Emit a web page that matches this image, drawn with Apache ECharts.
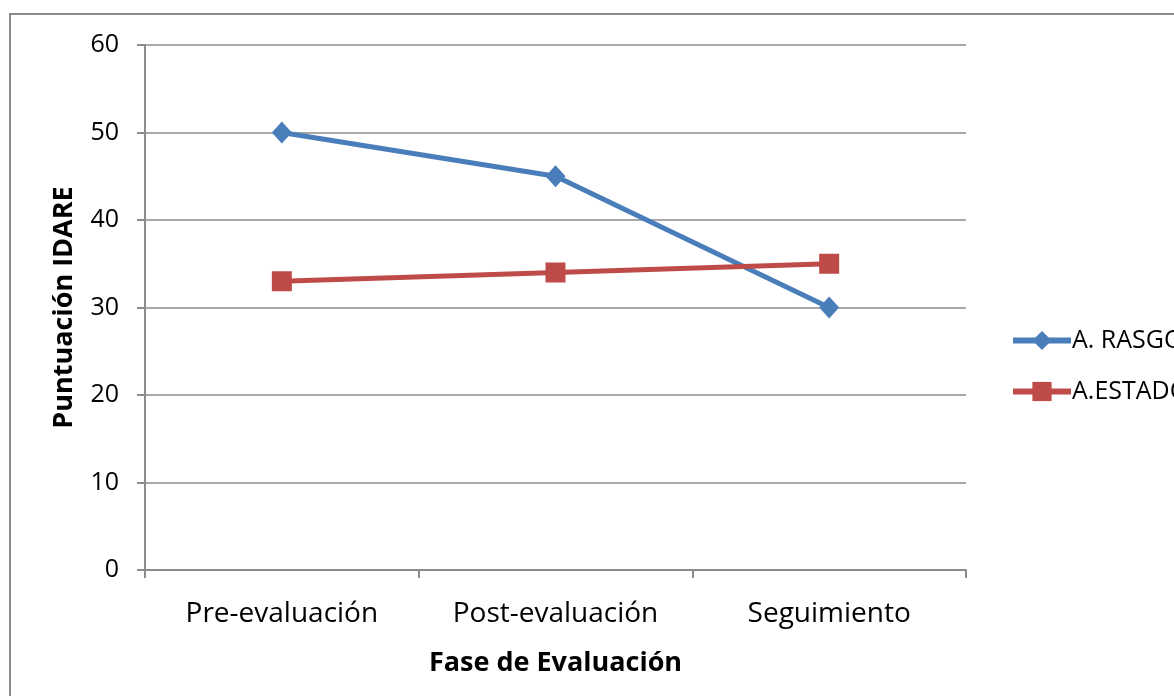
<!DOCTYPE html>
<html>
<head>
<meta charset="utf-8">
<script src="https://cdn.jsdelivr.net/npm/echarts@6/dist/echarts.min.js"></script>
<style>
  html, body { margin: 0; padding: 0; background: #fff; }
  #chart { width: 1174px; height: 696px; }
</style>
</head>
<body>
<div id="chart"></div>
<script>
// Phases of the evaluation and IDARE scores per anxiety scale
const fases = ['Pre-evaluación', 'Post-evaluación', 'Seguimiento'];
const rasgo = [50, 45, 30];
const estado = [33, 34, 35];
const yTicks = { min: 0, max: 60, interval: 10 };

const FONT = 'Open Sans';
const chart = echarts.init(document.getElementById('chart'));
chart.setOption({
  animation: false,
  textStyle: { fontFamily: FONT },
  graphic: [{
    type: 'rect',
    shape: { x: 10, y: 14, width: 1200, height: 720 },
    style: { fill: 'none', stroke: '#8c8c8c', lineWidth: 2 },
    silent: true, z: -1
  }],
  grid: { left: 145, right: 208, top: 45, bottom: 126 },
  legend: {
    orient: 'vertical',
    left: 1005,
    top: 323,
    itemGap: 26,
    itemWidth: 58,
    itemHeight: 24,
    lineStyle: { width: 6 },
    textStyle: { fontFamily: FONT, fontSize: 25, color: '#000', padding: [0, 0, 0, -4] },
    data: ['A. RASGO', 'A.ESTADO']
  },
  xAxis: {
    type: 'category',
    data: fases,
    boundaryGap: true,
    name: 'Fase de Evaluación',
    nameLocation: 'middle',
    nameGap: 80,
    nameTextStyle: { fontFamily: FONT, fontSize: 27, fontWeight: 'bold', color: '#000' },
    axisLine: { lineStyle: { color: '#8c8c8c', width: 2 } },
    axisTick: { show: true, length: 8, lineStyle: { color: '#8c8c8c', width: 2 } },
    axisLabel: { margin: 30, fontSize: 28, color: '#000', fontFamily: FONT }
  },
  yAxis: {
    type: 'value',
    min: yTicks.min, max: yTicks.max, interval: yTicks.interval,
    name: 'Puntuación IDARE',
    nameLocation: 'middle',
    nameGap: 67,
    nameTextStyle: { fontFamily: FONT, fontSize: 27, fontWeight: 'bold', color: '#000' },
    axisLine: { show: true, lineStyle: { color: '#8c8c8c', width: 2 } },
    axisTick: { show: true, length: 8, lineStyle: { color: '#8c8c8c', width: 2 } },
    splitLine: { lineStyle: { color: '#8c8c8c', width: 1.5 } },
    axisLabel: { margin: 26, fontSize: 25, color: '#000', fontFamily: FONT }
  },
  series: [
    {
      name: 'A. RASGO', type: 'line', data: rasgo,
      symbol: 'diamond', symbolSize: [20, 22],
      lineStyle: { color: '#4a7ebb', width: 5 },
      itemStyle: { color: '#4a7ebb' }
    },
    {
      name: 'A.ESTADO', type: 'line', data: estado,
      symbol: 'rect', symbolSize: 20,
      lineStyle: { color: '#be4b48', width: 5 },
      itemStyle: { color: '#be4b48' }
    }
  ]
});
</script>
</body>
</html>
